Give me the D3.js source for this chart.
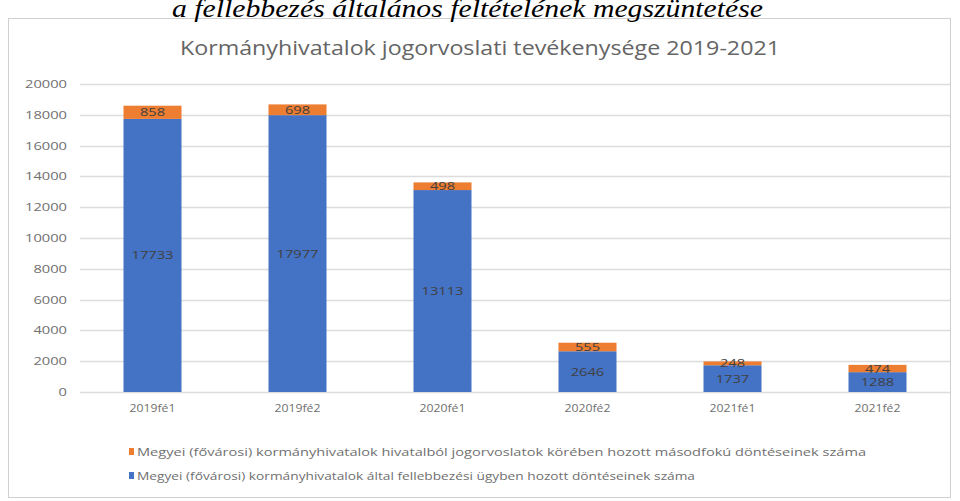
<!DOCTYPE html>
<html><head><meta charset="utf-8">
<script src="https://cdn.jsdelivr.net/npm/d3@7/dist/d3.min.js"></script>
<style>
html,body{margin:0;padding:0;background:#fff;}
svg{display:block;}
</style></head>
<body>
<svg id="c" width="960" height="501"></svg>
<script>
const categories = ["2019fé1","2019fé2","2020fé1","2020fé2","2021fé1","2021fé2"];
const blueValues = [17733,17977,13113,2646,1737,1288];
const orangeValues = [858,698,498,555,248,474];
const yTicks = [0,2000,4000,6000,8000,10000,12000,14000,16000,18000,20000];
const seriesNames = [
  "Megyei (fővárosi) kormányhivatalok hivatalból jogorvoslatok körében hozott másodfokú  döntéseinek száma",
  "Megyei (fővárosi) kormányhivatalok által fellebbezési ügyben hozott döntéseinek száma"
];
const chartTitle = "Kormányhivatalok jogorvoslati tevékenysége 2019-2021";
const headerText = "a fellebbezés általános feltételének megszüntetése";

const svg = d3.select("#c");
const blue = "#4472C4", orange = "#ED7D31";

// frame
svg.append("rect").attr("x",8.5).attr("y",18.5).attr("width",942).attr("height",479)
  .attr("fill","#fff").attr("stroke","#d0d0d0").attr("stroke-width",1);

// header text (partially cut at the top, as in reference)
svg.append("text").attr("x",172).attr("y",17)
  .attr("font-family","Liberation Serif").attr("font-style","italic").attr("font-size",26)
  .attr("textLength",591).attr("lengthAdjust","spacingAndGlyphs")
  .attr("fill","#000").text(headerText);

svg.append("text").attr("x",180).attr("y",55)
  .attr("font-family","Open Sans").attr("font-size",20).attr("fill","#656565")
  .attr("textLength",600).attr("lengthAdjust","spacingAndGlyphs").text(chartTitle);

const x = d3.scaleBand().domain(categories).range([80,950]).paddingInner(0.6).paddingOuter(0.3);
const y = d3.scaleLinear().domain([0,20000]).range([392,84]);

// grid
svg.append("g").selectAll("line").data(yTicks).join("line")
  .attr("x1",80).attr("x2",950).attr("y1",d=>Math.round(y(d))+0.5).attr("y2",d=>Math.round(y(d))+0.5)
  .attr("stroke","#dcdcdc").attr("stroke-width",1.6);

// y axis
const ya = svg.append("g").attr("transform","translate(67,0)")
  .call(d3.axisLeft(y).tickValues(yTicks).tickSize(0).tickPadding(0).tickFormat(d3.format("d")));
ya.select(".domain").remove();
ya.selectAll("text").attr("font-family","Open Sans").attr("font-size",11).attr("fill","#707070")
  .attr("textLength",d=>String(d).length*8.4).attr("lengthAdjust","spacingAndGlyphs");

// x axis
const xa = svg.append("g").attr("transform","translate(0,392)")
  .call(d3.axisBottom(x).tickSize(0).tickPadding(13));
xa.select(".domain").remove();
xa.selectAll("text").attr("font-family","Open Sans").attr("font-size",10.5).attr("fill","#707070")
  .attr("textLength",46).attr("lengthAdjust","spacingAndGlyphs");

const data = categories.map((c,i)=>({c, b:blueValues[i], o:orangeValues[i]}));
const g = svg.append("g");
g.selectAll("rect.b").data(data).join("rect").attr("class","b")
  .attr("x",d=>x(d.c)).attr("width",x.bandwidth())
  .attr("y",d=>y(d.b)).attr("height",d=>y(0)-y(d.b)).attr("fill",blue);
g.selectAll("rect.o").data(data).join("rect").attr("class","o")
  .attr("x",d=>x(d.c)).attr("width",x.bandwidth())
  .attr("y",d=>y(d.b+d.o)).attr("height",d=>y(d.b)-y(d.b+d.o)).attr("fill",orange);

g.selectAll("text.bl").data(data).join("text").attr("class","bl")
  .attr("x",d=>x(d.c)+x.bandwidth()/2).attr("y",d=>(y(d.b)+y(0))/2+4)
  .attr("text-anchor","middle").attr("font-family","Open Sans").attr("font-size",11)
  .attr("textLength",d=>String(d.b).length*8.4).attr("lengthAdjust","spacingAndGlyphs")
  .attr("fill","#404040").text(d=>d.b);
g.selectAll("text.ol").data(data).join("text").attr("class","ol")
  .attr("x",d=>x(d.c)+x.bandwidth()/2).attr("y",d=>(y(d.b)+y(d.b+d.o))/2+4)
  .attr("text-anchor","middle").attr("font-family","Open Sans").attr("font-size",11)
  .attr("textLength",d=>String(d.o).length*8.4).attr("lengthAdjust","spacingAndGlyphs")
  .attr("fill","#404040").text(d=>d.o);

// legend
const leg = svg.append("g");
const legColors = [orange, blue];
const legWidths = [729, 558];
seriesNames.forEach((n,i)=>{
  const ly = 456 + i*24;
  leg.append("rect").attr("x",129).attr("y",ly-8).attr("width",5).attr("height",7).attr("fill",legColors[i]);
  leg.append("text").attr("x",137).attr("y",ly).attr("font-family","Open Sans").attr("font-size",10.5)
    .attr("textLength",legWidths[i]).attr("lengthAdjust","spacingAndGlyphs")
    .attr("fill","#707070").text(n);
});
</script>
</body></html>
